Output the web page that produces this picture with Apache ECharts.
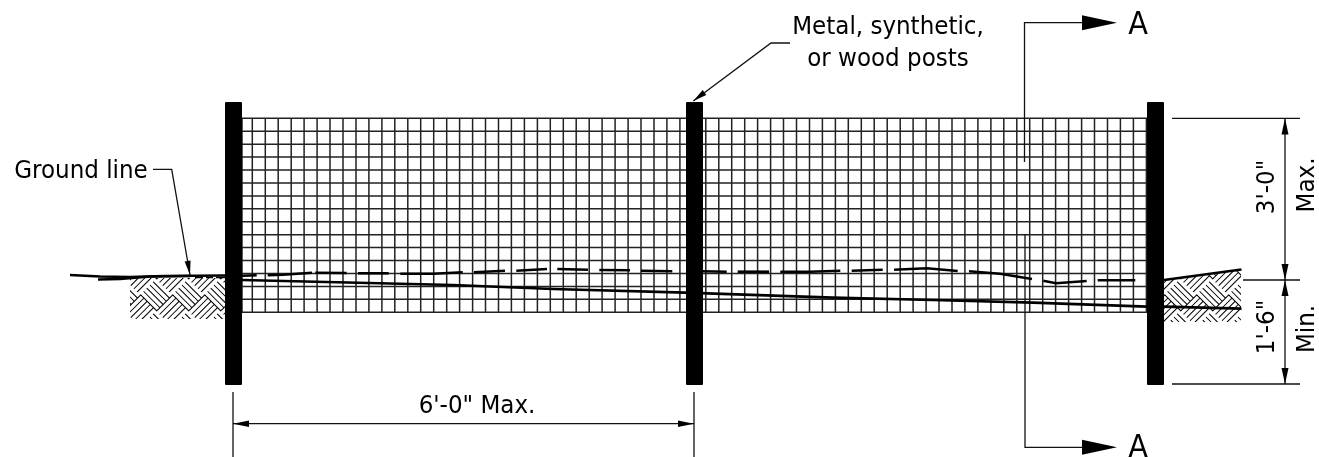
<!DOCTYPE html>
<html><head><meta charset="utf-8">
<style>html,body{margin:0;padding:0;background:#fff}#c{width:1319px;height:457px}</style>
<script src="https://cdn.jsdelivr.net/npm/echarts@6/dist/echarts.min.js"></script>
</head><body><div id="c"></div>
<script>
// Drawing geometry (drawing units = canvas scale of the axes)
var meshVerticals = [242,252.3,265.3,278.2,291.2,304.1,317.1,330,343,356,368.9,381.9,394.8,407.8,420.7,433.7,446.7,459.6,472.6,485.5,498.5,511.4,524.4,537.4,550.3,563.3,576.2,589.2,602.1,615.1,628.1,641,654,666.9,679.9,692.8,705.8,718.8,731.7,744.7,757.6,770.6,783.5,796.5,809.5,822.4,835.4,848.3,861.3,874.2,887.2,900.2,913.1,926.1,939,952,964.9,977.9,990.9,1003.8,1016.8,1029.7,1042.7,1055.6,1068.6,1081.6,1094.5,1107.5,1120.4,1133.4,1146.4];
var meshHorizontals = [118.3,131.2,144.2,157.1,170,183,195.9,208.8,221.7,234.7,247.6,260.5,273.5,286.4,299.3,312.3];
var meshLeft = 242, meshRight = 1147, meshTop = 118.3, meshBottom = 312.3;
var posts = [[225,102,242,385],[686,102,703,385],[1147,102,1164,385]];
var hatchLeft = [[130,278],[225,278],[225,319],[130,319]];
var hatchRight = [[1164,280],[1241,270],[1241,322],[1164,322]];
var groundSolid = [
  [[70,275],[100,276.5],[130,277],[165,276],[225,275.5]],
  [[98,279.5],[120,279],[150,276.5],[190,276]],
  [[242,280],[453,285],[553,289],[685,292.7],[833,297.7],[933,300],[1033,302.7],[1147,306.7]],
  [[1164,280],[1241.5,269.5]],
  [[1164,306.7],[1241.5,308.7]]
];
var groundDashes = [
  [[242,275.7],[256.7,275.3]],[[267.7,275.3],[283,274.7],[312,272.7]],[[315.3,272.7],[346.7,273]],
  [[358,273.3],[388.7,273.3]],[[400.3,273.7],[433.3,273.7],[462.7,272.3]],[[474,272.3],[505,270.7]],
  [[516.3,270.7],[547,269]],[[557.3,269],[588,269.7]],[[599.3,270],[630,270.3]],[[641,270.7],[672.3,271.3]],
  [[703,271.3],[726.7,271.7]],[[737.7,271.7],[769,271.7]],[[780.3,271.7],[810,271.7],[840.3,270.7]],
  [[851.7,270.7],[882.7,269.7]],[[894,269.7],[926.7,268.3],[957.7,271]],[[969,271.3],[1000,273.7],[1032,279]],
  [[1043.3,280.7],[1056,283.3],[1086.7,281]],[[1097.7,280.3],[1135.3,280.3]]
];
var underDashes = [[[195,277.5],[203,277.5]],[[206,277.5],[213,277.5]],[[216,277.5],[225,277.5]]];
var thinLines = [
  [[1172,118.3],[1300,118.3]],[[1243,280],[1300,280]],[[1172,384],[1300,384]],
  [[1285,118.3],[1285,384]],
  [[233,392],[233,457]],[[694,392],[694,457]],[[233,423.7],[694,423.7]],
  [[153,169.3],[171.7,169.3],[190,275]],
  [[790,43],[771,43],[693.3,101]],
  [[1082,22.7],[1024.5,22.7],[1024.5,162]],
  [[1025,234],[1025,447.3],[1082,447.3]]
];
// arrowheads: tipX, tipY, baseX, baseY, width
var arrows = [
  [1285,118.3,1285,134.5,7],[1285,280,1285,264,7],[1285,280,1285,296,7],[1285,384,1285,368,7],
  [233,423.7,249,423.7,6.5],[694,423.7,678,423.7,6.5],
  [190,275,187.6,261,6],[693.3,101,704.5,92.5,6],
  [1117,22.7,1082,22.7,15],[1117,447.3,1082,447.3,15]
];
var labels = ['Metal, synthetic,','or wood posts','Ground line','A','A',"6'-0\" Max.","3'-0\"",'Max.',"1'-6\"",'Min.'];
var labelX = [888,888,81,1138,1138,477,1267,1307,1267,1307];
var labelY = [27.5,59,171,26,449,406,187,185,327,329];
var labelSize = [25.6,25.6,25.6,32,32,25.6,25.6,25.6,25.6,25.6];
var labelTurn = [0,0,0,0,0,0,90,90,90,90];

// Basket-weave hatch tile
function weaveTile(offU, offV, flip){
  var P=32, s=P/Math.SQRT2, n=s/5, w=1.0, c=document.createElement('canvas');
  c.width=c.height=P; var g=c.getContext('2d'), im=g.createImageData(P,P);
  for(var y=0;y<P;y++)for(var x=0;x<P;x++){
    var hit=0;
    for(var j=0;j<4;j++)for(var i=0;i<4;i++){
      var X=x+(i+.5)/4, Y=y+(j+.5)/4, u=(X+Y)/Math.SQRT2-offU*s, v=(X-Y)/Math.SQRT2-offV*s;
      var par=(Math.floor(u/s)+Math.floor(v/s))&1; if(flip)par=1-par;
      var t=par?u:v, f=((t%n)+n)%n; if(f<w)hit++;
    }
    var k=(y*P+x)*4; im.data[k+3]=Math.round(255*hit/16);
  }
  g.putImageData(im,0,0); return c;
}
var tileL=weaveTile(13.59,-4.84,false), tileR=weaveTile(13.59,-4.84,false);

function linesData(a){return a.map(function(p){return {coords:p};});}
function lineSeries(a,w,col,z){return {type:'lines',coordinateSystem:'cartesian2d',polyline:true,silent:true,z:z,
  lineStyle:{color:col,width:w,opacity:1,curveness:0},effect:{show:false},data:linesData(a),animation:false};}
function polySeries(poly,tile){return {type:'custom',coordinateSystem:'cartesian2d',silent:true,z:1,animation:false,
  data:[0],renderItem:function(p,api){return {type:'polygon',shape:{points:poly.map(function(q){return api.coord(q);})},style:{fill:{image:tile,repeat:'repeat'}}};}};}

var meshLines = meshVerticals.map(function(x){return [[x,meshTop],[x,meshBottom]];})
  .concat(meshHorizontals.map(function(y){return [[meshLeft,y],[meshRight,y]];}));

var option={animation:false,backgroundColor:'#fff',
 grid:{left:0,right:0,top:0,bottom:0},
 xAxis:{type:'value',min:0,max:1319,show:false},
 yAxis:{type:'value',min:0,max:457,inverse:true,show:false},
 series:[
  polySeries(hatchLeft,tileL),polySeries(hatchRight,tileR),
  lineSeries(meshLines,1.5,'#222',2),
  lineSeries(thinLines,1.3,'#111',3),
  lineSeries(underDashes,1.5,'#000',3),
  lineSeries(groundDashes,2.6,'#000',4),
  lineSeries(groundSolid,2.7,'#000',4),
  {type:'custom',coordinateSystem:'cartesian2d',silent:true,z:6,animation:false,data:posts,encode:{x:[0,2],y:[1,3]},
   renderItem:function(p,api){var a=api.coord([api.value(0),api.value(1)]),b=api.coord([api.value(2),api.value(3)]);
     return {type:'rect',shape:{x:a[0],y:a[1],width:b[0]-a[0],height:b[1]-a[1],r:1},style:{fill:'#000'}};}},
  {type:'custom',coordinateSystem:'cartesian2d',silent:true,z:7,animation:false,data:arrows,encode:{x:[0,2],y:[1,3]},
   renderItem:function(p,api){var t=api.coord([api.value(0),api.value(1)]),b=api.coord([api.value(2),api.value(3)]),w=api.value(4)/2;
     var dx=b[0]-t[0],dy=b[1]-t[1],L=Math.sqrt(dx*dx+dy*dy),nx=-dy/L*w,ny=dx/L*w;
     return {type:'polygon',shape:{points:[t,[b[0]+nx,b[1]+ny],[b[0]-nx,b[1]-ny]]},style:{fill:'#000'}};}},
  {type:'custom',coordinateSystem:'cartesian2d',silent:true,z:8,animation:false,
   data:labels.map(function(t,i){return [labelX[i],labelY[i],i];}),encode:{x:0,y:1},
   renderItem:function(p,api){var i=api.value(2),c=api.coord([api.value(0),api.value(1)]);
     return {type:'text',x:c[0],y:c[1],rotation:labelTurn[i]*Math.PI/180,
       style:{text:labels[i],fill:'#000',font:labelSize[i]+'px "DejaVu Sans Condensed","DejaVu Sans"',align:'center',verticalAlign:'middle'}};}}
 ]};
var chart=echarts.init(document.getElementById('c'),null,{renderer:'canvas',devicePixelRatio:1});
chart.setOption(option);
</script></body></html>
